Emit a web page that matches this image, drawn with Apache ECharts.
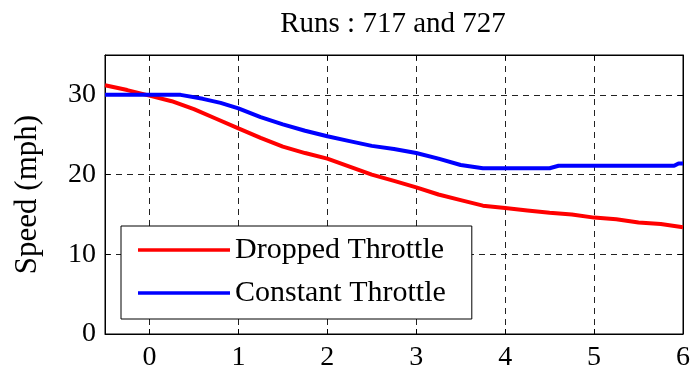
<!DOCTYPE html>
<html><head><meta charset="utf-8">
<script src="https://cdn.jsdelivr.net/npm/echarts@6/dist/echarts.min.js"></script>
<style>html,body{margin:0;padding:0;background:#fff}#c{width:698px;height:372px}</style>
</head><body><div id="c"></div>
<script>
const titleText = 'Runs : 717 and 727';
const yName = 'Speed (mph)';
const seriesNames = ['Dropped Throttle', 'Constant Throttle'];
const droppedX = [-0.5,-0.25,0,0.25,0.5,0.75,1,1.25,1.5,1.75,2,2.25,2.5,2.75,3,3.25,3.5,3.75,4,4.25,4.5,4.75,5,5.25,5.5,5.75,6];
const droppedY = [31.2,30.6,29.9,29.2,28.2,27.0,25.8,24.6,23.5,22.7,22.0,21.0,20.0,19.2,18.4,17.5,16.8,16.1,15.8,15.5,15.2,15.0,14.6,14.4,14.0,13.8,13.4];
const constantX = [-0.5,0.35,0.6,0.8,1,1.25,1.5,1.75,2,2.25,2.5,2.75,3,3.25,3.5,3.75,4.5,4.6,5.9,5.95,6];
const constantY = [30.0,30.0,29.5,29.0,28.3,27.2,26.3,25.5,24.8,24.2,23.6,23.2,22.7,22.0,21.2,20.8,20.8,21.1,21.1,21.4,21.4];
const xTicksShown = [0,1,2,3,4,5,6];
const yTicksShown = [0,10,20,30];

const font = 'Liberation Serif';
const zip = (xs, ys) => xs.map((x, i) => [x, ys[i]]);
const dash = {show:true, lineStyle:{color:'#222', type:[6,5], width:1}};
const chart = echarts.init(document.getElementById('c'));
chart.setOption({
  animation:false,
  title:{text:titleText, left:388, textAlign:'center', top:5,
    textStyle:{fontFamily:font, fontSize:29, fontWeight:'normal', color:'#000'}},
  grid:{left:105, right:15, top:55, bottom:38, show:true, borderColor:'#000', borderWidth:1, backgroundColor:'#fff'},
  legend:{orient:'vertical', left:121, top:226, itemWidth:92, itemHeight:14, itemGap:13,
    padding:[9,26,11,17], backgroundColor:'#fff', borderColor:'#000', borderWidth:1,
    textStyle:{fontFamily:font, fontSize:30, lineHeight:30, color:'#000'},
    data:seriesNames.map(n=>({name:n, icon:'path://M0,0L100,0L100,4L0,4Z'}))},
  xAxis:[{type:'value', min:-0.5, max:6, splitNumber:6,
    axisLine:{show:true, onZero:false, lineStyle:{color:'#000', width:1}},
    axisTick:{show:true, inside:true, length:5, lineStyle:{color:'#000'}},
    axisLabel:{fontFamily:font, fontSize:28, color:'#000', margin:10,
      formatter:v=>xTicksShown.includes(v)?String(v):''},
    splitLine:dash},
   {type:'value', position:'top', min:-0.5, max:6, splitNumber:6,
    axisLine:{show:true, onZero:false, lineStyle:{color:'#000'}},
    axisTick:{show:true, inside:true, length:5, lineStyle:{color:'#000'}},
    axisLabel:{show:false}, splitLine:{show:false}}],
  yAxis:[{type:'value', min:0, max:35, interval:10, name:yName, nameLocation:'middle', nameGap:62,
    nameTextStyle:{fontFamily:font, fontSize:31, color:'#000'},
    axisLine:{show:true, onZero:false, lineStyle:{color:'#000', width:1}},
    axisTick:{show:true, inside:true, length:5, lineStyle:{color:'#000'}},
    axisLabel:{fontFamily:font, fontSize:28, color:'#000', margin:9,
      formatter:v=>yTicksShown.includes(v)?String(v):''},
    splitLine:dash},
   {type:'value', position:'right', min:0, max:35, interval:10,
    axisLine:{show:true, onZero:false, lineStyle:{color:'#000'}},
    axisTick:{show:true, inside:true, length:5, lineStyle:{color:'#000'}},
    axisLabel:{show:false}, splitLine:{show:false}}],
  series:[
    {name:seriesNames[0], type:'line', data:zip(droppedX, droppedY), showSymbol:false, smooth:false,
      lineStyle:{color:'#ff0000', width:4}, itemStyle:{color:'#ff0000'}},
    {name:seriesNames[1], type:'line', data:zip(constantX, constantY), showSymbol:false, smooth:false,
      lineStyle:{color:'#0000ff', width:4}, itemStyle:{color:'#0000ff'}}
  ]
});
</script></body></html>
